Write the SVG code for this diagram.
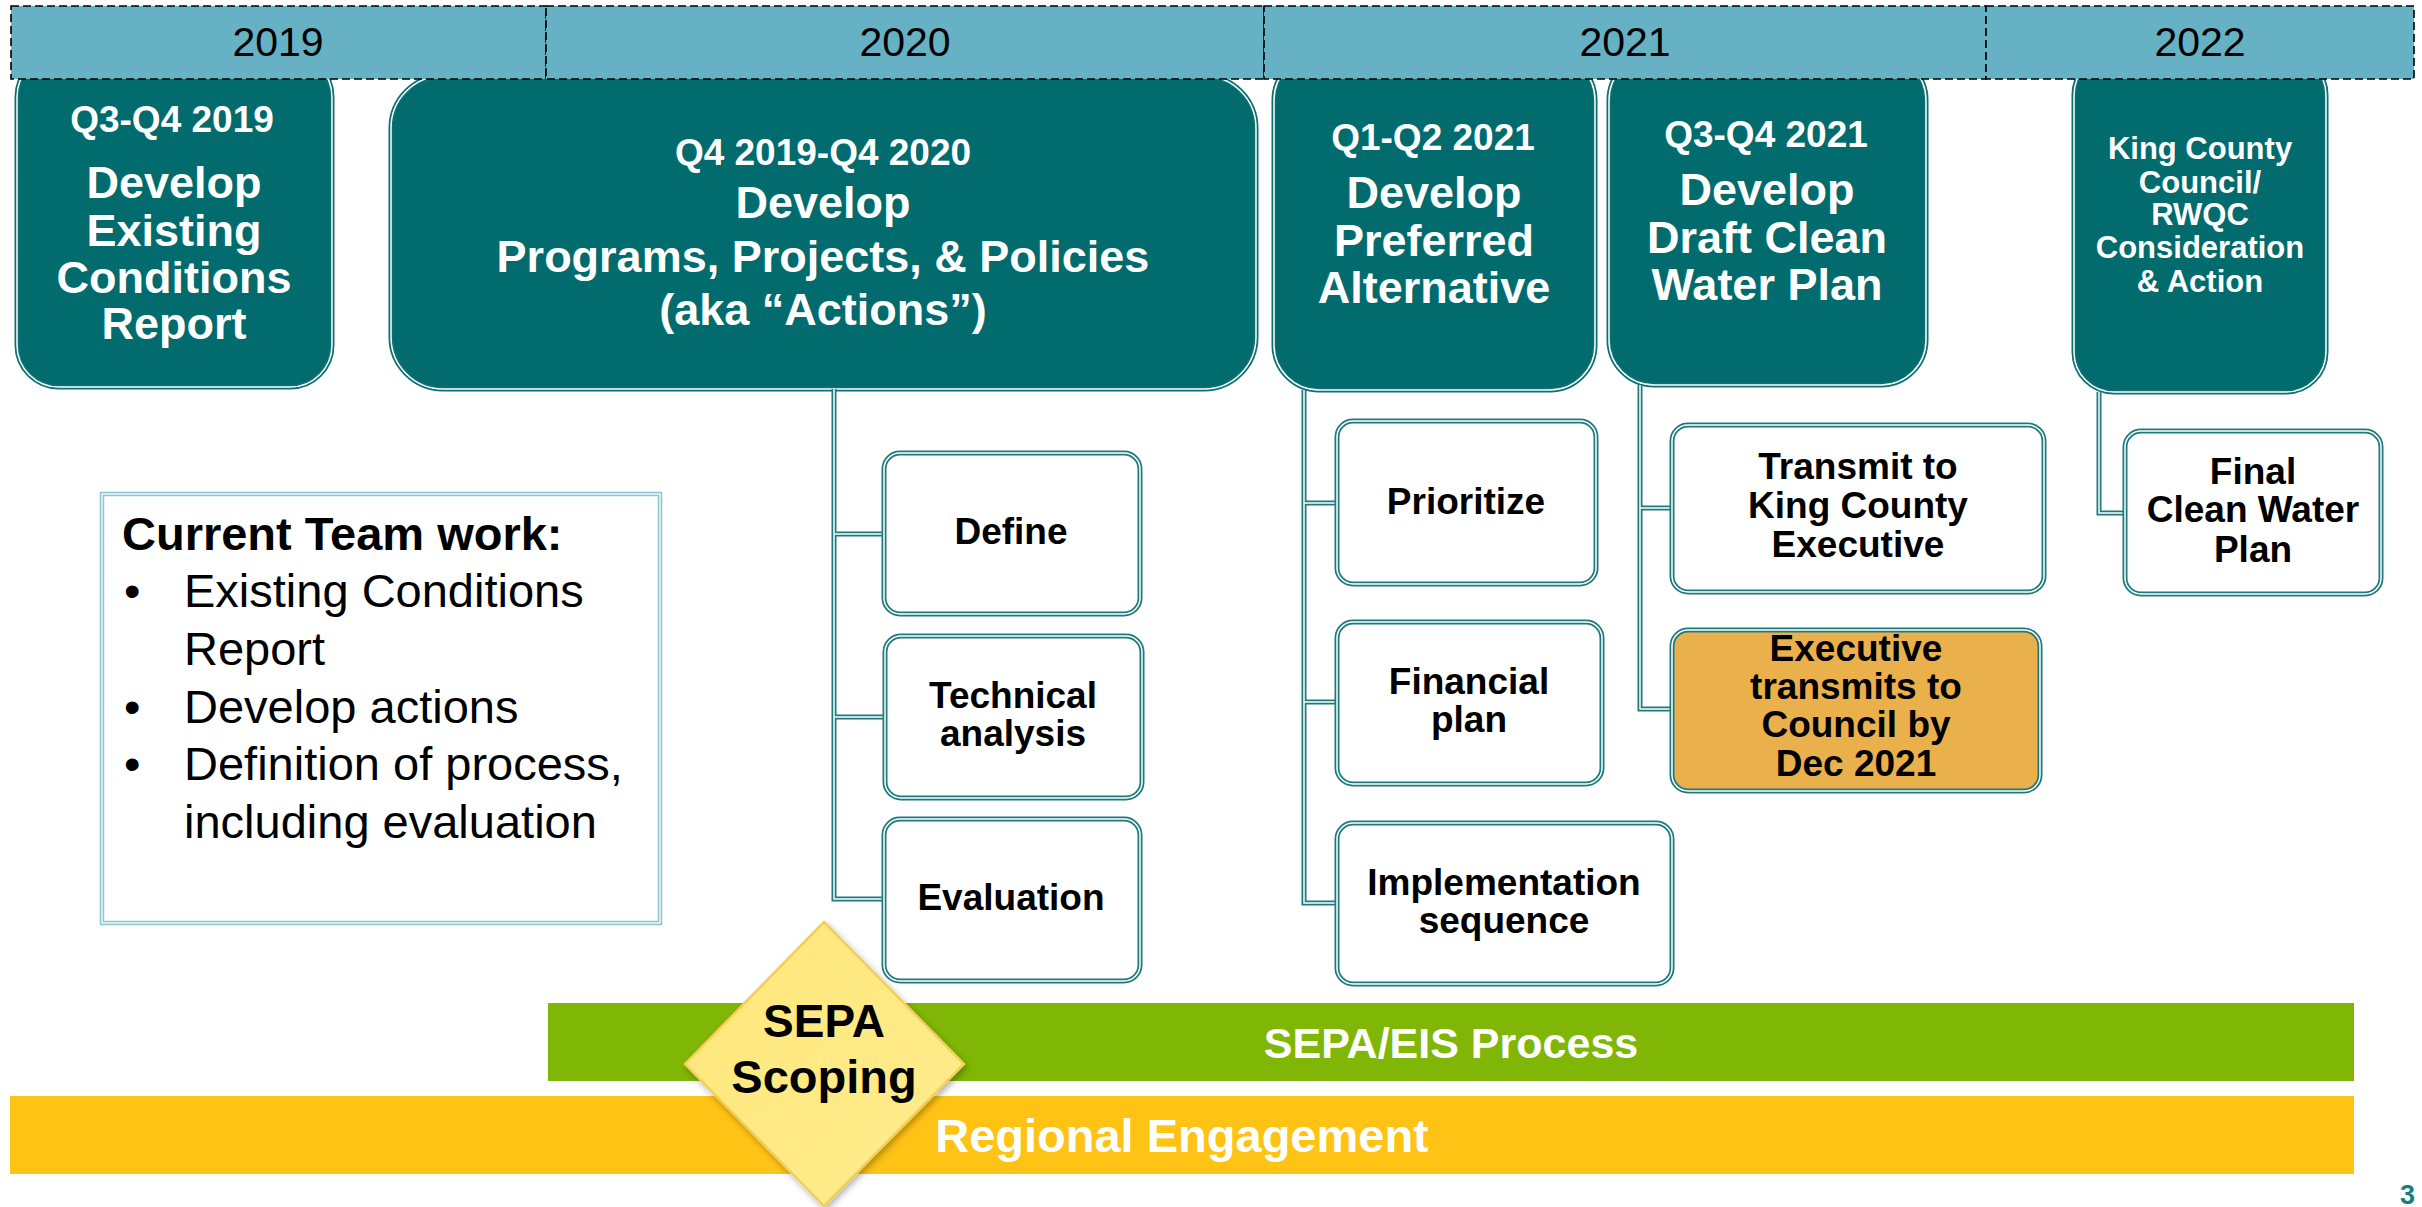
<svg xmlns="http://www.w3.org/2000/svg" width="2422" height="1207" viewBox="0 0 2422 1207">
<defs>
<linearGradient id="dg" x1="0" y1="0" x2="1" y2="1">
<stop offset="0" stop-color="#FFE77A"/>
<stop offset="1" stop-color="#FFEC8E"/>
</linearGradient>
<filter id="sh" x="-20%" y="-20%" width="140%" height="140%">
<feDropShadow dx="2" dy="3" stdDeviation="3" flood-color="#000" flood-opacity="0.3"/>
</filter>
<style>
.tb{fill:#016B6E;stroke:#0C6F72;stroke-width:5}
.tw{fill:none;stroke:#FFFFFF;stroke-width:1.5}
.cb{fill:#FFFFFF;stroke:#1E7A7C;stroke-width:5}
.ob{fill:#EAB04B;stroke:#1E7A7C;stroke-width:5}
.yr{fill:#67B1C5;stroke:#000;stroke-width:1.6;stroke-dasharray:8 4}
.yt{font-family:"Liberation Sans",Arial,sans-serif;font-size:41px;fill:#000;text-anchor:middle}
.q{font-family:"Liberation Sans",Arial,sans-serif;font-size:37px;font-weight:bold;fill:#fff;text-anchor:middle}
.h{font-family:"Liberation Sans",Arial,sans-serif;font-size:45px;font-weight:bold;fill:#fff;text-anchor:middle}
.k{font-family:"Liberation Sans",Arial,sans-serif;font-size:31px;font-weight:bold;fill:#fff;text-anchor:middle}
.c{font-family:"Liberation Sans",Arial,sans-serif;font-size:37px;font-weight:bold;fill:#000;text-anchor:middle}
.lo{fill:none;stroke:#1E7A7C;stroke-width:5}
.li{fill:none;stroke:#FFFFFF;stroke-width:1.5}
.bt{font-family:"Liberation Sans",Arial,sans-serif;font-size:47px;fill:#000}
.bw{font-family:"Liberation Sans",Arial,sans-serif;font-weight:bold;fill:#fff;text-anchor:middle}
</style>
</defs>
<rect width="2422" height="1207" fill="#fff"/>

<g id="node-q3q4-2019">
<rect class="tb" x="17" y="55" width="315" height="332" rx="42"/>
<rect class="tw" x="17" y="55" width="315" height="332" rx="42"/>
<text class="q" x="172" y="132">Q3-Q4 2019</text>
<text class="h" x="174" y="198">Develop</text>
<text class="h" x="174" y="246">Existing</text>
<text class="h" x="174" y="293">Conditions</text>
<text class="h" x="174" y="339">Report</text>
</g>
<g id="node-q4-2019-q4-2020">
<rect class="tb" x="391" y="76" width="865" height="313" rx="52"/>
<rect class="tw" x="391" y="76" width="865" height="313" rx="52"/>
<text class="q" x="823" y="165">Q4 2019-Q4 2020</text>
<text class="h" x="823" y="218">Develop</text>
<text class="h" x="823" y="272">Programs, Projects, &amp; Policies</text>
<text class="h" x="823" y="325">(aka “Actions”)</text>
</g>
<g id="node-q1q2-2021">
<rect class="tb" x="1274" y="55" width="321" height="335" rx="45"/>
<rect class="tw" x="1274" y="55" width="321" height="335" rx="45"/>
<text class="q" x="1433" y="150">Q1-Q2 2021</text>
<text class="h" x="1434" y="208">Develop</text>
<text class="h" x="1434" y="256">Preferred</text>
<text class="h" x="1434" y="303">Alternative</text>
</g>
<g id="node-q3q4-2021">
<rect class="tb" x="1609" y="55" width="317" height="330" rx="45"/>
<rect class="tw" x="1609" y="55" width="317" height="330" rx="45"/>
<text class="q" x="1766" y="147">Q3-Q4 2021</text>
<text class="h" x="1767" y="205">Develop</text>
<text class="h" x="1767" y="253">Draft Clean</text>
<text class="h" x="1767" y="300">Water Plan</text>
</g>
<g id="node-2022">
<rect class="tb" x="2074" y="55" width="252" height="337" rx="40"/>
<rect class="tw" x="2074" y="55" width="252" height="337" rx="40"/>
<text class="k" x="2200" y="159">King County</text>
<text class="k" x="2200" y="193">Council/</text>
<text class="k" x="2200" y="225">RWQC</text>
<text class="k" x="2200" y="258">Consideration</text>
<text class="k" x="2200" y="292">&amp; Action</text>
</g>

<g id="timeline">
<rect class="yr" x="11" y="6" width="535" height="73"/>
<rect class="yr" x="546" y="6" width="718" height="73"/>
<rect class="yr" x="1264" y="6" width="722" height="73"/>
<rect class="yr" x="1986" y="6" width="428" height="73"/>
<text class="yt" x="278" y="56">2019</text>
<text class="yt" x="905" y="56">2020</text>
<text class="yt" x="1625" y="56">2021</text>
<text class="yt" x="2200" y="56">2022</text>
</g>

<g id="connectors">
<path class="lo" d="M834,389 V899 H884 M834,534 H884 M834,717 H885"/>
<path class="li" d="M834,389 V899 H884 M834,534 H884 M834,717 H885"/>
<path class="lo" d="M1304,390 V903 H1337 M1304,503 H1337 M1304,702 H1337"/>
<path class="li" d="M1304,390 V903 H1337 M1304,503 H1337 M1304,702 H1337"/>
<path class="lo" d="M1640,385 V709 H1672 M1640,508 H1672"/>
<path class="li" d="M1640,385 V709 H1672 M1640,508 H1672"/>
<path class="lo" d="M2099,392 V513 H2125"/>
<path class="li" d="M2099,392 V513 H2125"/>
</g>

<g id="node-define">
<rect class="cb" x="884" y="453" width="256" height="161" rx="16"/>
<rect class="tw" x="884" y="453" width="256" height="161" rx="16"/>
<text class="c" x="1011" y="544">Define</text>
</g>
<g id="node-technical">
<rect class="cb" x="885" y="636" width="257" height="162" rx="16"/>
<rect class="tw" x="885" y="636" width="257" height="162" rx="16"/>
<text class="c" x="1013" y="708">Technical</text>
<text class="c" x="1013" y="746">analysis</text>
</g>
<g id="node-evaluation">
<rect class="cb" x="884" y="819" width="256" height="162" rx="16"/>
<rect class="tw" x="884" y="819" width="256" height="162" rx="16"/>
<text class="c" x="1011" y="910">Evaluation</text>
</g>
<g id="node-prioritize">
<rect class="cb" x="1337" y="421" width="259" height="163" rx="16"/>
<rect class="tw" x="1337" y="421" width="259" height="163" rx="16"/>
<text class="c" x="1466" y="514">Prioritize</text>
</g>
<g id="node-financial">
<rect class="cb" x="1337" y="622" width="265" height="162" rx="16"/>
<rect class="tw" x="1337" y="622" width="265" height="162" rx="16"/>
<text class="c" x="1469" y="694">Financial</text>
<text class="c" x="1469" y="732">plan</text>
</g>
<g id="node-implementation">
<rect class="cb" x="1337" y="823" width="335" height="161" rx="16"/>
<rect class="tw" x="1337" y="823" width="335" height="161" rx="16"/>
<text class="c" x="1504" y="895">Implementation</text>
<text class="c" x="1504" y="933">sequence</text>
</g>
<g id="node-transmit">
<rect class="cb" x="1672" y="425" width="372" height="167" rx="16"/>
<rect class="tw" x="1672" y="425" width="372" height="167" rx="16"/>
<text class="c" x="1858" y="479">Transmit to</text>
<text class="c" x="1858" y="518">King County</text>
<text class="c" x="1858" y="557">Executive</text>
</g>
<g id="node-executive-transmits">
<rect class="ob" x="1672" y="630" width="368" height="161" rx="16"/>
<rect class="tw" x="1672" y="630" width="368" height="161" rx="16"/>
<text class="c" x="1856" y="661" font-size="36">Executive</text>
<text class="c" x="1856" y="699" font-size="36">transmits to</text>
<text class="c" x="1856" y="737" font-size="36">Council by</text>
<text class="c" x="1856" y="776" font-size="36">Dec 2021</text>
</g>
<g id="node-final">
<rect class="cb" x="2125" y="431" width="256" height="163" rx="16"/>
<rect class="tw" x="2125" y="431" width="256" height="163" rx="16"/>
<text class="c" x="2253" y="484">Final</text>
<text class="c" x="2253" y="522">Clean Water</text>
<text class="c" x="2253" y="562">Plan</text>
</g>

<g id="current-team-work">
<rect x="102" y="494" width="558" height="429" fill="#fff" stroke="#8CC5D0" stroke-width="4.5"/>
<rect x="102" y="494" width="558" height="429" fill="none" stroke="#fff" stroke-width="1.3"/>
<text class="bt" x="122" y="550" font-weight="bold">Current Team work:</text>
<text class="bt" x="124" y="607">•</text>
<text class="bt" x="184" y="607">Existing Conditions</text>
<text class="bt" x="184" y="665">Report</text>
<text class="bt" x="124" y="723">•</text>
<text class="bt" x="184" y="723">Develop actions</text>
<text class="bt" x="124" y="780">•</text>
<text class="bt" x="184" y="780">Definition of process,</text>
<text class="bt" x="184" y="838">including evaluation</text>
</g>

<g id="sepa-eis-process">
<rect x="548" y="1003" width="1806" height="78" fill="#80B605"/>
<text class="bw" x="1451" y="1058" font-size="43">SEPA/EIS Process</text>
</g>
<g id="regional-engagement">
<rect x="10" y="1096" width="2344" height="78" fill="#FEC314"/>
<text class="bw" x="1182" y="1152" font-size="47">Regional Engagement</text>
</g>

<g id="sepa-scoping">
<polygon points="824,922 964,1064 824,1206 685,1064" fill="url(#dg)" stroke="#F3CF5A" stroke-width="2.5" filter="url(#sh)"/>
<text x="824" y="1037" font-family="Liberation Sans, Arial, sans-serif" font-size="46" font-weight="bold" text-anchor="middle" fill="#000">SEPA</text>
<text x="824" y="1093" font-family="Liberation Sans, Arial, sans-serif" font-size="47" font-weight="bold" text-anchor="middle" fill="#000">Scoping</text>
</g>

<text x="2400" y="1204" font-family="Liberation Sans, Arial, sans-serif" font-size="27" font-weight="bold" fill="#1B7C80">3</text>
</svg>
